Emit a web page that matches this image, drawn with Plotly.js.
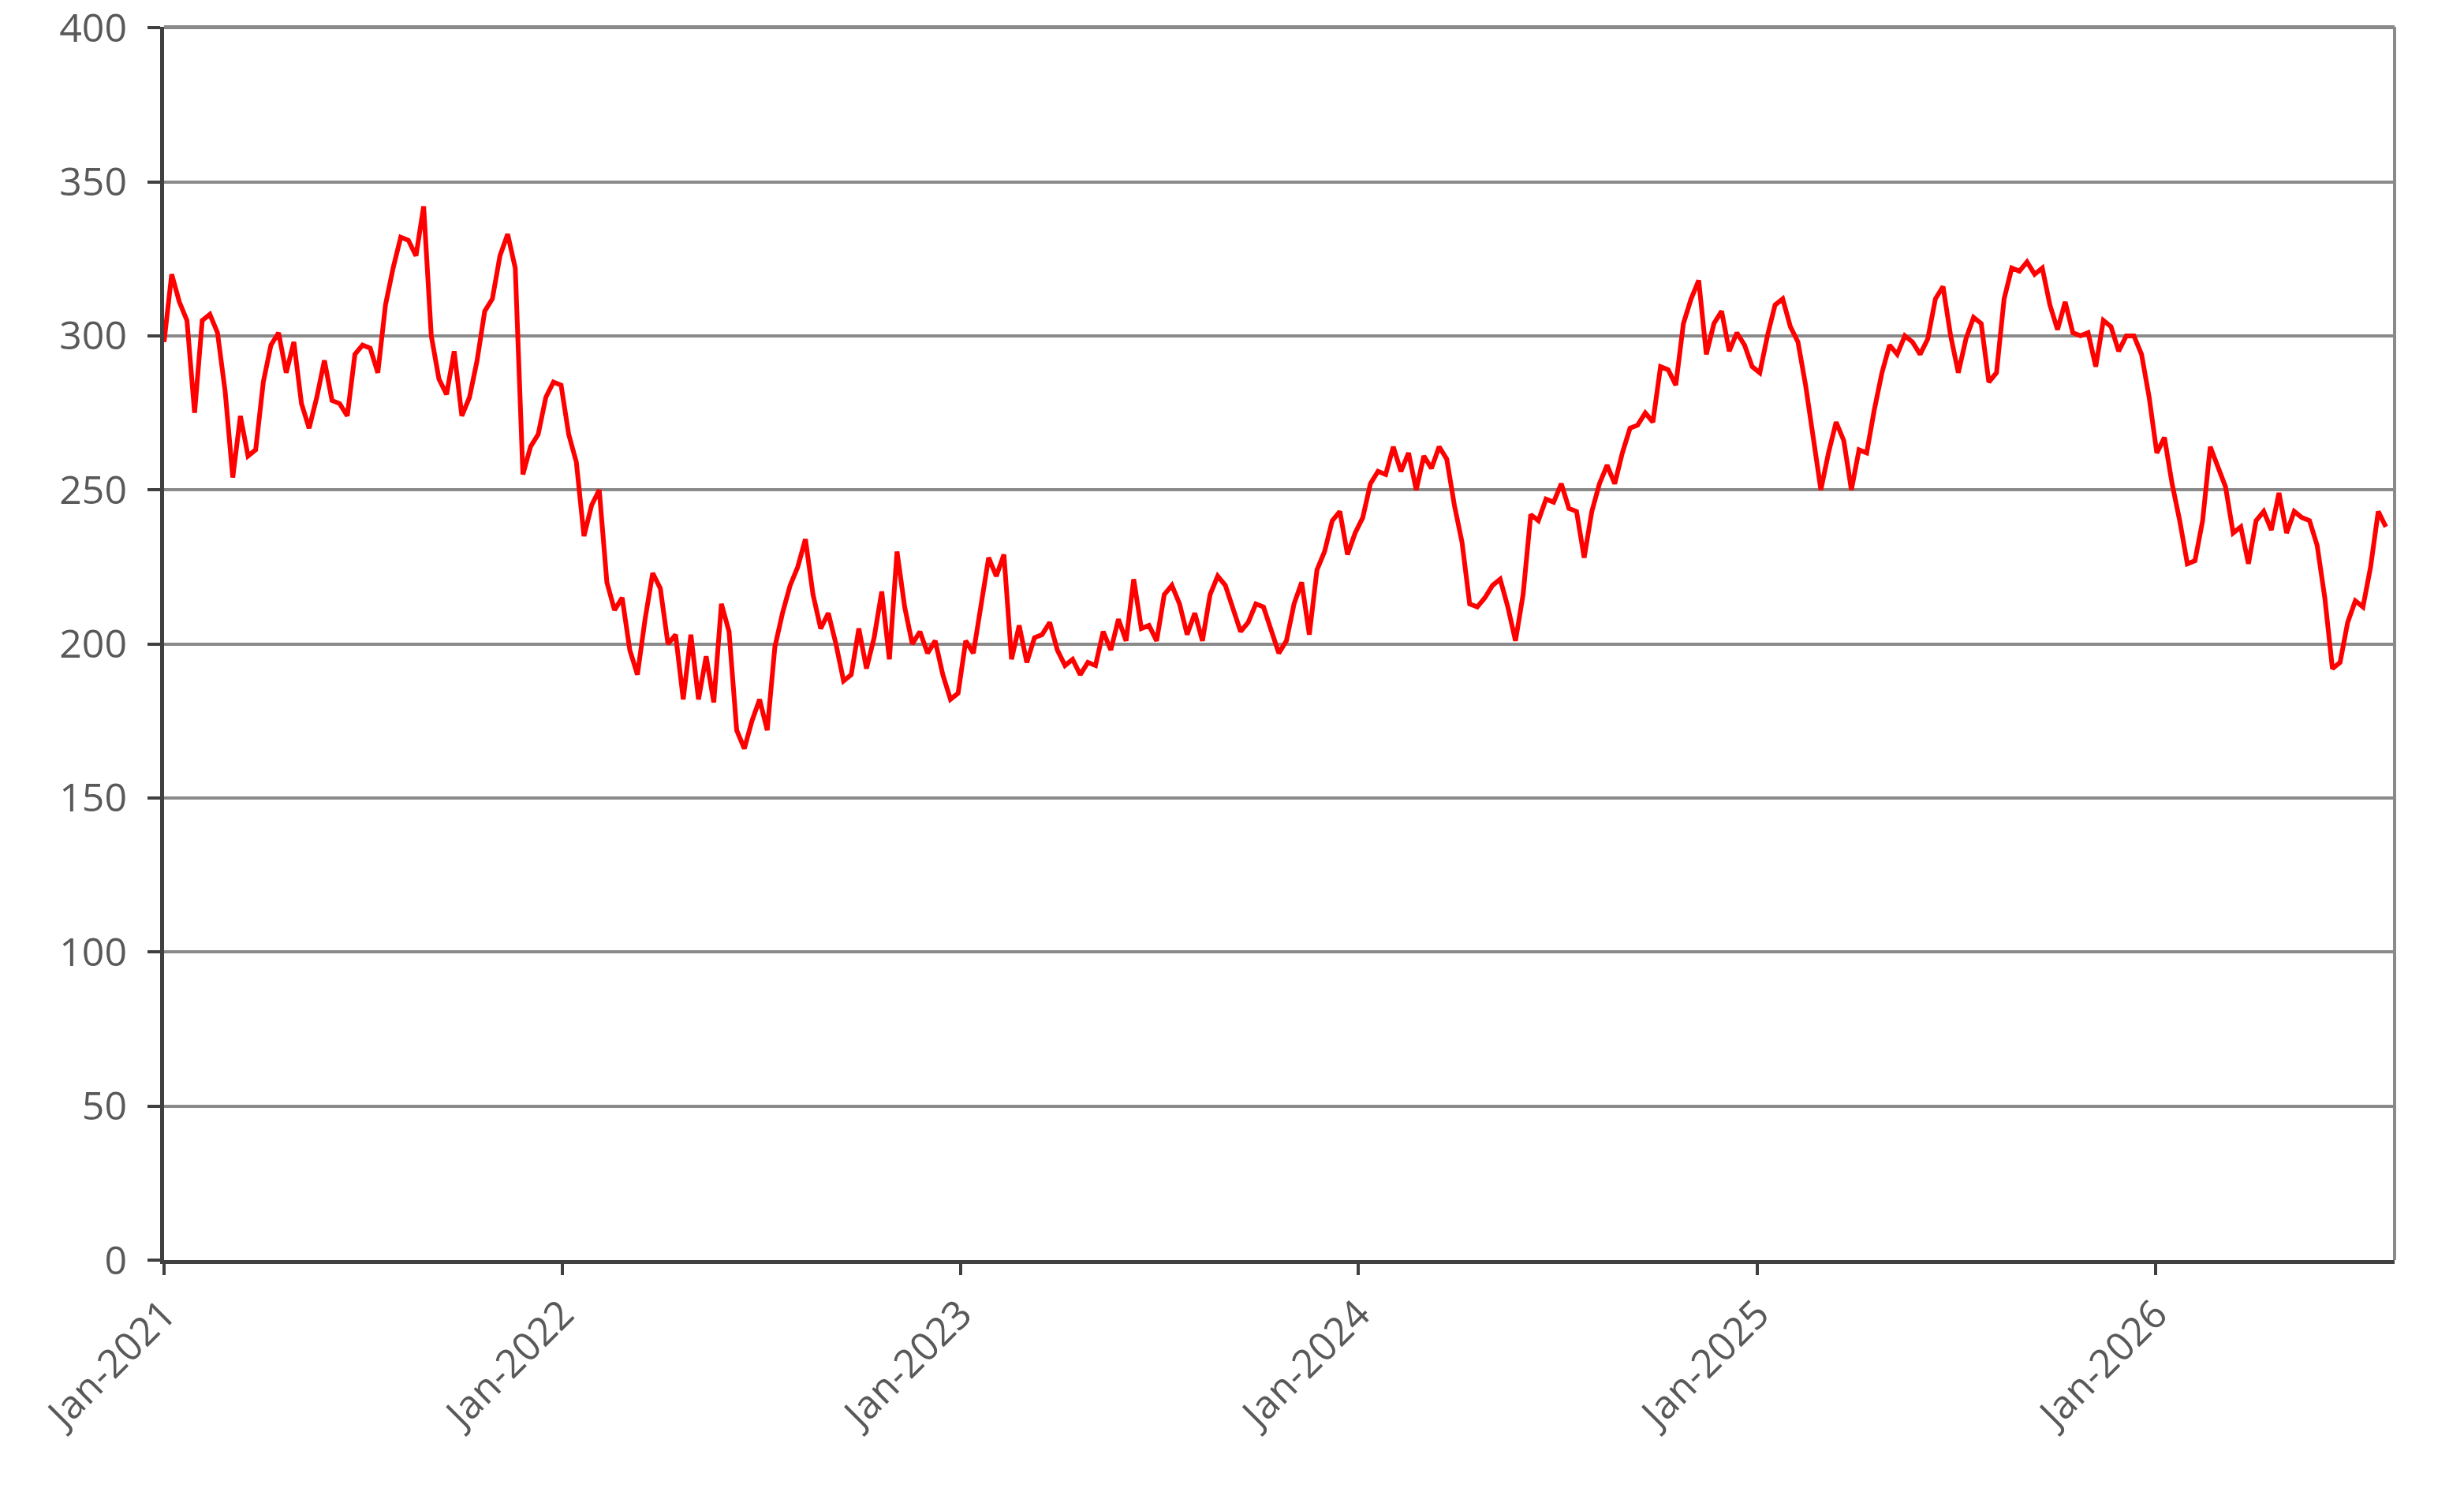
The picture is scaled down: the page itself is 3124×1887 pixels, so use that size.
<!DOCTYPE html>
<html>
<head>
<meta charset="utf-8">
<script src="https://cdn.plot.ly/plotly-3.0.1.min.js"></script>
<style>
  html, body { margin: 0; padding: 0; background: #fff; }
  #chart { width: 3124px; height: 1887px; }
</style>
</head>
<body>
<div id="chart"></div>
<script>
// weekly readings, first point at the start of Jan 2021
const startDate = '2021-01-01'
const weeklyValues = [
  298, 320, 311, 305, 275, 305, 307, 301, 282, 254,
  274, 261, 263, 285, 297, 301, 288, 298, 278, 270,
  280, 292, 279, 278, 274, 294, 297, 296, 288, 310,
  322, 332, 331, 326, 342, 300, 286, 281, 295, 274,
  280, 292, 308, 312, 326, 333, 322, 255, 264, 268,
  280, 285, 284, 268, 259, 235, 245, 250, 220, 211,
  215, 198, 190, 208, 223, 218, 200, 203, 182, 203,
  182, 196, 181, 213, 204, 172, 166, 175, 182, 172,
  199, 210, 219, 225, 234, 216, 205, 210, 200, 188,
  190, 205, 192, 202, 217, 195, 230, 212, 200, 204,
  197, 201, 190, 182, 184, 201, 197, 212, 228, 222,
  229, 195, 206, 194, 202, 203, 207, 198, 193, 195,
  190, 194, 193, 204, 198, 208, 201, 221, 205, 206,
  201, 216, 219, 213, 203, 210, 201, 216, 222, 219,
  212, 204, 207, 213, 212, 205, 197, 201, 213, 220,
  203, 224, 230, 240, 243, 229, 236, 241, 252, 256,
  255, 264, 256, 262, 250, 261, 257, 264, 260, 245,
  233, 213, 212, 215, 219, 221, 212, 201, 216, 242,
  240, 247, 246, 252, 244, 243, 228, 243, 252, 258,
  252, 262, 270, 271, 275, 272, 290, 289, 284, 304,
  312, 318, 294, 304, 308, 295, 301, 297, 290, 288,
  300, 310, 312, 303, 298, 284, 268, 250, 262, 272,
  266, 250, 263, 262, 276, 288, 297, 294, 300, 298,
  294, 299, 312, 316, 300, 288, 299, 306, 304, 285,
  288, 312, 322, 321, 324, 320, 322, 310, 302, 311,
  301, 300, 301, 290, 305, 303, 295, 300, 300, 294,
  280, 262, 267, 252, 240, 226, 227, 240, 264, 258,
  251, 236, 238, 226, 240, 243, 237, 249, 236, 243,
  241, 240, 232, 215, 192, 194, 207, 214, 212, 225,
  243, 238
]
const yearTicks = ['2021-01-01', '2022-01-01', '2023-01-01', '2024-01-01', '2025-01-01', '2026-01-01']
const yearLabels = ['Jan-2021', 'Jan-2022', 'Jan-2023', 'Jan-2024', 'Jan-2025', 'Jan-2026']
const yTicks = [0, 50, 100, 150, 200, 250, 300, 350, 400]

// build the date for each weekly value
const dates = []
const d0 = new Date(startDate + 'T00:00:00Z')
for (let i = 0; i < weeklyValues.length; i++) {
  const d = new Date(d0.getTime() + i * 7 * 86400000)
  dates.push(d.toISOString().slice(0, 10))
}

const trace = {
  x: dates,
  y: weeklyValues,
  type: 'scatter',
  mode: 'lines',
  line: { color: '#ff0000', width: 6 },
  hoverinfo: 'skip'
}

const tickFont = { family: 'Open Sans, sans-serif', size: 50, color: '#595959' }

const layout = {
  width: 3124,
  height: 1887,
  margin: { l: 208, r: 88, t: 34, b: 289 },
  paper_bgcolor: '#ffffff',
  plot_bgcolor: '#ffffff',
  showlegend: false,
  xaxis: {
    type: 'date',
    range: ['2021-01-01', '2026-08-08'],
    tickvals: yearTicks,
    ticktext: yearLabels,
    tickangle: -45,
    tickfont: tickFont,
    ticks: 'outside',
    ticklen: 14,
    tickwidth: 4,
    tickcolor: '#404040',
    showline: true,
    linecolor: '#404040',
    linewidth: 5,
    showgrid: false,
    zeroline: false,
    ticklabelstandoff: 0
  },
  yaxis: {
    range: [0, 400.3],
    tickvals: yTicks,
    tickfont: tickFont,
    ticks: 'outside',
    ticklen: 16,
    tickwidth: 4,
    tickcolor: '#404040',
    showline: true,
    linecolor: '#404040',
    linewidth: 5,
    showgrid: true,
    gridcolor: '#8a8a8a',
    gridwidth: 4,
    zeroline: false,
    ticklabelstandoff: 16,
    ticklabeloverflow: 'allow'
  },
  shapes: [
    { type: 'line', xref: 'paper', yref: 'paper', x0: 0, x1: 1, y0: 1, y1: 1,
      line: { color: '#8a8a8a', width: 4 } },
    { type: 'line', xref: 'paper', yref: 'paper', x0: 1, x1: 1, y0: 0, y1: 1,
      line: { color: '#8a8a8a', width: 4 } }
  ]
}

Plotly.newPlot('chart', [trace], layout, { staticPlot: true, displayModeBar: false })
</script>
</body>
</html>
